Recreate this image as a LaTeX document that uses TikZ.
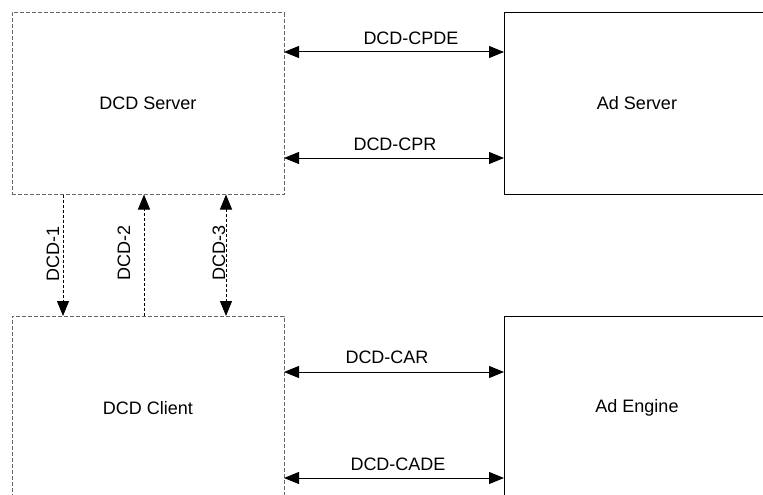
\documentclass[tikz,border=0pt]{standalone}
\usepackage{fontspec}
\setmainfont{Liberation Sans}
\usetikzlibrary{arrows.meta}
\tikzset{
  tip/.tip={Triangle[length=15pt,width=12pt]},
  box/.style={draw, line width=1pt, minimum width=266pt, minimum height=182pt,
    inner sep=0pt, outer sep=0pt, font=\fontsize{18}{22}\selectfont},
  dashbox/.style={box, draw=black!60, dash pattern=on 4pt off 2pt, minimum width=272pt},
  link/.style={line width=1pt, tip-tip},
  dlink/.style={line width=1pt, dash pattern=on 3pt off 2pt},
  lbl/.style={font=\fontsize{18}{22}\selectfont, inner sep=0pt},
}
\begin{document}
\begin{tikzpicture}[x=1pt,y=-1pt]
  \useasboundingbox (0,0) rectangle (763,495);
  \clip (0,0) rectangle (763,495);
  \node[dashbox] (server) at (148,103.5) {DCD Server};
  \node[box] (adserver) at (637,103.5) {Ad Server};
  \node[dashbox,minimum height=184pt] (client) at (148,408) {DCD Client};
  \node[box,minimum height=184pt] (engine) at (637,408) {Ad Engine};

  \draw[link] (server.east |- 0,52) -- (adserver.west |- 0,52);
  \node[lbl] (cpde) at (411,38) {DCD-CPDE};
  \draw[link] (server.east |- 0,158) -- (adserver.west |- 0,158);
  \node[lbl] (cpr) at (395,144) {DCD-CPR};
  \draw[link] (client.east |- 0,372) -- (engine.west |- 0,372);
  \node[lbl] (car) at (387,357) {DCD-CAR};
  \draw[link] (client.east |- 0,478) -- (engine.west |- 0,478);
  \node[lbl] (cade) at (398,464) {DCD-CADE};

  \draw[dlink,-tip] (server.south -| 63,0) -- (client.north -| 63,0);
  \node[lbl,rotate=90] (d1) at (53,254) {DCD-1};
  \draw[dlink,-tip] (client.north -| 144,0) -- (server.south -| 144,0);
  \node[lbl,rotate=90] (d2) at (124,253) {DCD-2};
  \draw[dlink,tip-tip] (server.south -| 226,0) -- (client.north -| 226,0);
  \node[lbl,rotate=90] (d3) at (219,253) {DCD-3};
\end{tikzpicture}
\end{document}
